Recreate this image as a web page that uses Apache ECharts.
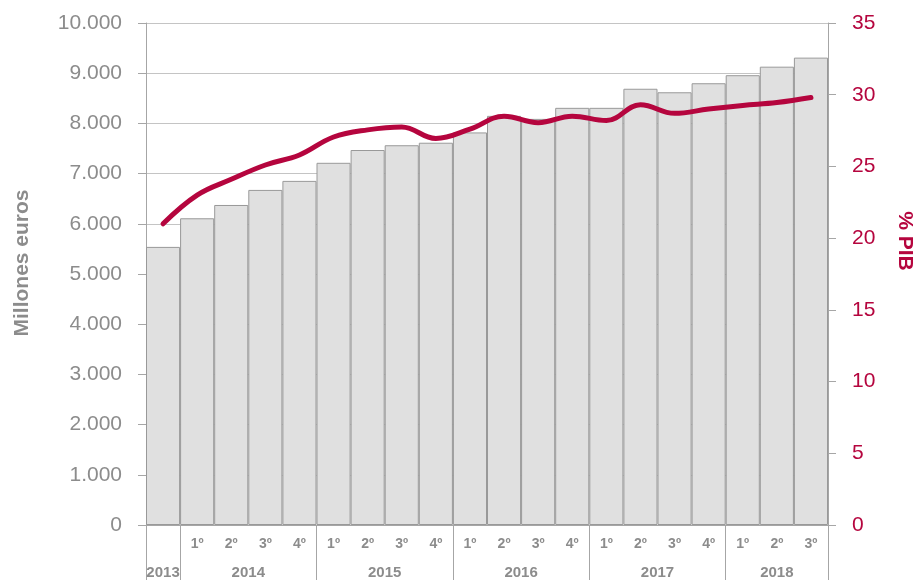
<!DOCTYPE html>
<html>
<head>
<meta charset="utf-8">
<script src="https://cdn.jsdelivr.net/npm/echarts@6/dist/echarts.min.js"></script>
<style>
  html, body { margin: 0; padding: 0; background: #fff; }
  #chart { width: 919px; height: 580px; }
</style>
</head>
<body>
<div id="chart"></div>
<script>
// trimestres (2013 solo tiene el último, sin etiqueta)
const quarters = ['', '1º', '2º', '3º', '4º', '1º', '2º', '3º', '4º', '1º', '2º', '3º', '4º', '1º', '2º', '3º', '4º', '1º', '2º', '3º']
const years = ['2013', '2014', '2015', '2016', '2017', '2018']
// límites de cada año y centros, en unidades de trimestre
const yearBounds = [0, 1, 5, 9, 13, 17, 20]
const yearCenters = [0.5, 3, 7, 11, 15, 18.5]
// millones de euros
const millones = [5540, 6110, 6375, 6675, 6855, 7215, 7470, 7565, 7615, 7820, 8150, 8090, 8310, 8310, 8690, 8620, 8800, 8960, 9130, 9310]
// % PIB
const pib = [21.0, 23.0, 24.1, 25.1, 25.8, 27.05, 27.55, 27.75, 26.95, 27.6, 28.5, 28.05, 28.5, 28.2, 29.3, 28.7, 29.0, 29.25, 29.45, 29.8]

const gray = '#8c8c8c'
const red = '#b5053e'
const lineGray = '#a6a6a6'

const chart = echarts.init(document.getElementById('chart'))
chart.setOption({
  animation: false,
  textStyle: { fontFamily: 'Liberation Sans, Arial, sans-serif' },
  grid: { left: 146, right: 91, top: 23, bottom: 55 },
  xAxis: [
    {
      type: 'category',
      data: quarters,
      axisLine: { lineStyle: { color: lineGray } },
      axisTick: { interval: 0, length: 28, lineStyle: { color: lineGray } },
      axisLabel: { interval: 0, color: gray, fontWeight: 'bold', fontSize: 14, margin: 12 }
    },
    {
      type: 'value',
      position: 'bottom',
      min: 0,
      max: 20,
      axisLine: { show: false },
      splitLine: { show: false },
      axisTick: { show: true, length: 55, customValues: yearBounds, lineStyle: { color: lineGray } },
      axisLabel: {
        customValues: yearCenters,
        color: gray,
        fontWeight: 'bold',
        fontSize: 15,
        margin: 40,
        formatter: function (val) {
          const i = yearCenters.indexOf(val)
          return i >= 0 ? years[i] : ''
        }
      }
    }
  ],
  yAxis: [
    {
      type: 'value',
      min: 0,
      max: 10000,
      interval: 1000,
      axisLine: { show: true, lineStyle: { color: lineGray } },
      axisTick: { show: true, length: 8, lineStyle: { color: lineGray } },
      splitLine: { lineStyle: { color: '#c4c4c4' } },
      axisLabel: {
        color: gray,
        fontSize: 21,
        margin: 24,
        formatter: function (v) {
          return String(v).replace(/\B(?=(\d{3})+(?!\d))/g, '.')
        }
      }
    },
    {
      type: 'value',
      position: 'right',
      min: 0,
      max: 35,
      interval: 5,
      axisLine: { show: true, lineStyle: { color: lineGray } },
      axisTick: { show: true, length: 8, lineStyle: { color: lineGray } },
      splitLine: { show: false },
      axisLabel: { color: red, fontSize: 21, margin: 24 }
    }
  ],
  graphic: [
    {
      type: 'text',
      x: 22,
      y: 263,
      rotation: Math.PI / 2,
      style: { text: 'Millones euros', fill: gray, font: 'bold 21px Liberation Sans, Arial, sans-serif', textAlign: 'center', textVerticalAlign: 'middle' }
    },
    {
      type: 'text',
      x: 905,
      y: 241,
      rotation: -Math.PI / 2,
      style: { text: '% PIB', fill: red, font: 'bold 21px Liberation Sans, Arial, sans-serif', textAlign: 'center', textVerticalAlign: 'middle' }
    }
  ],
  series: [
    {
      type: 'bar',
      data: millones,
      barCategoryGap: 0,
      itemStyle: { color: '#e0e0e0', borderColor: '#999', borderWidth: 1 }
    },
    {
      type: 'line',
      yAxisIndex: 1,
      data: pib,
      smooth: 0.4,
      showSymbol: false,
      lineStyle: { color: red, width: 5, cap: 'round' }
    }
  ]
})
</script>
</body>
</html>
